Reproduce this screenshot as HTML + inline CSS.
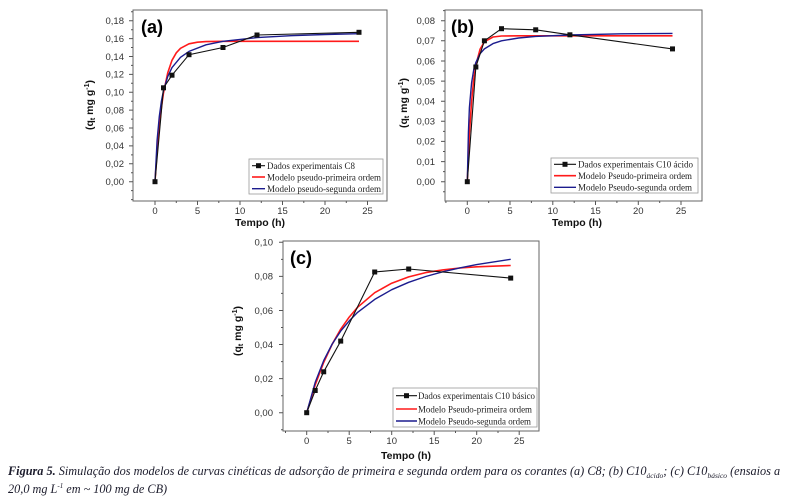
<!DOCTYPE html>
<html><head><meta charset="utf-8"><style>
html,body{margin:0;padding:0;background:#fff;}
svg{display:block;}
.tl{font-family:"Liberation Sans",sans-serif;font-size:9.5px;fill:#333;}
.ax{font-family:"Liberation Sans",sans-serif;font-size:10.5px;font-weight:bold;fill:#111;}
.pl{font-family:"Liberation Sans",sans-serif;font-size:18px;font-weight:bold;fill:#000;}
.lg{font-family:"Liberation Serif",serif;font-size:9.5px;fill:#222;}
.cap{font-family:"Liberation Serif",serif;font-size:12.25px;font-style:italic;fill:#1c1c2c;}
</style></head><body>
<svg width="789" height="504" viewBox="0 0 789 504" xmlns="http://www.w3.org/2000/svg">
<rect width="789" height="504" fill="#fff"/>

<!-- ================= (a) ================= -->
<g>
<rect x="133" y="10" width="254" height="191" fill="none" stroke="#666" stroke-width="1"/>
<g stroke="#555" stroke-width="1">
<path d="M129 181.7H133M129 163.8H133M129 145.9H133M129 128H133M129 110.1H133M129 92.3H133M129 74.4H133M129 56.5H133M129 38.6H133M129 20.7H133"/>
<path d="M131 199.6H133M131 190.6H133M131 172.8H133M131 154.9H133M131 137H133M131 119.1H133M131 101.2H133M131 83.3H133M131 65.4H133M131 47.5H133M131 29.7H133M131 11.8H133"/>
<path d="M155 201V205M197.5 201V205M240 201V205M282.5 201V205M325 201V205M367.5 201V205"/>
<path d="M176.3 201V203M218.8 201V203M261.3 201V203M303.8 201V203M346.3 201V203"/>
</g>
<g class="tl" text-anchor="end">
<text x="124" y="185">0,00</text><text x="124" y="167.1">0,02</text><text x="124" y="149.2">0,04</text><text x="124" y="131.3">0,06</text><text x="124" y="113.4">0,08</text><text x="124" y="95.6">0,10</text><text x="124" y="77.7">0,12</text><text x="124" y="59.8">0,14</text><text x="124" y="41.9">0,16</text><text x="124" y="24">0,18</text>
</g>
<g class="tl" text-anchor="middle">
<text x="155" y="214">0</text><text x="197.5" y="214">5</text><text x="240" y="214">10</text><text x="282.5" y="214">15</text><text x="325" y="214">20</text><text x="367.5" y="214">25</text>
</g>
<text class="ax" x="260" y="226" text-anchor="middle">Tempo (h)</text>
<text class="ax" transform="translate(93,105) rotate(-90)" text-anchor="middle">(q<tspan font-size="7" dy="2">t</tspan><tspan dy="-2"> mg g</tspan><tspan font-size="7" dy="-4">-1</tspan><tspan dy="4">)</tspan></text>
<text class="pl" x="141" y="33">(a)</text>
<polyline fill="none" stroke="#ff1a1a" stroke-width="1.6" stroke-linejoin="round" points="155,181.7 157.1,150.6 159.3,126.4 161.4,107.6 163.5,92.9 167.8,72.6 172,60.3 176.3,52.8 180.5,48.3 189,43.8 197.5,42.2 206,41.6 223,41.3 240,41.3 274,41.3 359,41.3"/>
<polyline fill="none" stroke="#1c1c8e" stroke-width="1.4" stroke-linejoin="round" points="155,181.7 157.1,140.3 159.3,116.5 161.4,101.2 163.5,90.5 167.8,76.4 172,67.6 180.5,57.3 189,51.4 206,44.8 223,41.3 257,37.6 291,35.7 325,34.5 359,33.7"/>
<polyline fill="none" stroke="#111" stroke-width="1.1" points="155,181.7 163.5,87.8 172,75.2 189,54.7 223,47.5 257,35 359,32.3"/>
<g fill="#111"><rect x="152.5" y="179.2" width="5" height="5"/><rect x="161" y="85.3" width="5" height="5"/><rect x="169.5" y="72.7" width="5" height="5"/><rect x="186.5" y="52.2" width="5" height="5"/><rect x="220.5" y="45" width="5" height="5"/><rect x="254.5" y="32.5" width="5" height="5"/><rect x="356.5" y="29.8" width="5" height="5"/></g>
<rect x="249" y="159" width="134" height="35" fill="#fff" stroke="#999" stroke-width="0.8"/>
<line x1="252" y1="165.7" x2="265" y2="165.7" stroke="#111" stroke-width="1.1"/><rect x="256" y="163.2" width="5" height="5" fill="#111"/>
<line x1="252" y1="177" x2="265" y2="177" stroke="#ff1a1a" stroke-width="1.6"/>
<line x1="252" y1="188.7" x2="265" y2="188.7" stroke="#1c1c8e" stroke-width="1.4"/>
<text class="lg" x="267" y="169" textLength="88" lengthAdjust="spacingAndGlyphs">Dados experimentais C8</text>
<text class="lg" x="267" y="180.3" textLength="114" lengthAdjust="spacingAndGlyphs">Modelo pseudo-primeira ordem</text>
<text class="lg" x="267" y="192" textLength="114" lengthAdjust="spacingAndGlyphs">Modelo pseudo-segunda ordem</text>
</g>

<!-- ================= (b) ================= -->
<g>
<rect x="445" y="10" width="257" height="191" fill="none" stroke="#666" stroke-width="1"/>
<g stroke="#555" stroke-width="1">
<path d="M441 181.7H445M441 161.6H445M441 141.4H445M441 121.3H445M441 101.2H445M441 81.1H445M441 61H445M441 40.8H445M441 20.7H445"/>
<path d="M443 191.8H445M443 171.6H445M443 151.5H445M443 131.4H445M443 111.3H445M443 91.1H445M443 71H445M443 50.9H445M443 30.8H445M443 10.6H445"/>
<path d="M467.3 201V205M510 201V205M552.8 201V205M595.5 201V205M638.3 201V205M681 201V205"/>
<path d="M445.9 201V203M488.7 201V203M531.4 201V203M574.2 201V203M616.9 201V203M659.7 201V203"/>
</g>
<g class="tl" text-anchor="end">
<text x="435" y="185">0,00</text><text x="435" y="164.9">0,01</text><text x="435" y="144.7">0,02</text><text x="435" y="124.6">0,03</text><text x="435" y="104.5">0,04</text><text x="435" y="84.4">0,05</text><text x="435" y="64.3">0,06</text><text x="435" y="44.1">0,07</text><text x="435" y="24">0,08</text>
</g>
<g class="tl" text-anchor="middle">
<text x="467.3" y="214">0</text><text x="510" y="214">5</text><text x="552.8" y="214">10</text><text x="595.5" y="214">15</text><text x="638.3" y="214">20</text><text x="681" y="214">25</text>
</g>
<text class="ax" x="577" y="226" text-anchor="middle">Tempo (h)</text>
<text class="ax" transform="translate(407,103) rotate(-90)" text-anchor="middle">(q<tspan font-size="7" dy="2">t</tspan><tspan dy="-2"> mg g</tspan><tspan font-size="7" dy="-4">-1</tspan><tspan dy="4">)</tspan></text>
<text class="pl" x="451" y="33">(b)</text>
<polyline fill="none" stroke="#ff1a1a" stroke-width="1.6" stroke-linejoin="round" points="467.3,181.7 469.4,133.6 471.6,101.4 473.7,79.7 475.85,65.2 480.1,49.1 484.4,41.8 493,37 501.5,36 518.6,35.8 672.5,35.8"/>
<polyline fill="none" stroke="#1c1c8e" stroke-width="1.4" stroke-linejoin="round" points="467.3,181.7 468.4,132.6 469.4,107.6 471.6,82.7 473.7,70 475.85,62.4 480.1,53.7 484.4,48.9 493,43.6 501.5,40.8 518.6,38 535.7,36.4 569.9,35 621.2,33.8 672.5,33.4"/>
<polyline fill="none" stroke="#111" stroke-width="1.1" points="467.3,181.7 475.85,67 484.4,40.8 501.5,28.7 535.7,29.8 569.9,34.8 672.5,48.9"/>
<g fill="#111"><rect x="464.8" y="179.2" width="5" height="5"/><rect x="473.35" y="64.5" width="5" height="5"/><rect x="481.9" y="38.3" width="5" height="5"/><rect x="499" y="26.2" width="5" height="5"/><rect x="533.2" y="27.3" width="5" height="5"/><rect x="567.4" y="32.3" width="5" height="5"/><rect x="670" y="46.4" width="5" height="5"/></g>
<rect x="551" y="158" width="147" height="35" fill="#fff" stroke="#999" stroke-width="0.8"/>
<line x1="554" y1="164.3" x2="576" y2="164.3" stroke="#111" stroke-width="1.1"/><rect x="562.5" y="161.8" width="5" height="5" fill="#111"/>
<line x1="554" y1="175.7" x2="576" y2="175.7" stroke="#ff1a1a" stroke-width="1.6"/>
<line x1="554" y1="187.3" x2="576" y2="187.3" stroke="#1c1c8e" stroke-width="1.4"/>
<text class="lg" x="578" y="167.6" textLength="115" lengthAdjust="spacingAndGlyphs">Dados experimentais C10 ácido</text>
<text class="lg" x="578" y="179" textLength="114" lengthAdjust="spacingAndGlyphs">Modelo Pseudo-primeira ordem</text>
<text class="lg" x="578" y="190.6" textLength="114" lengthAdjust="spacingAndGlyphs">Modelo Pseudo-segunda ordem</text>
</g>

<!-- ================= (c) ================= -->
<g>
<rect x="283" y="241" width="256" height="190" fill="none" stroke="#666" stroke-width="1"/>
<g stroke="#555" stroke-width="1">
<path d="M279 412.7H283M279 378.6H283M279 344.5H283M279 310.5H283M279 276.4H283M279 242.3H283"/>
<path d="M281 429.7H283M281 395.7H283M281 361.6H283M281 327.5H283M281 293.4H283M281 259.4H283"/>
<path d="M306.7 431V435M349.2 431V435M391.7 431V435M434.2 431V435M476.7 431V435M519.2 431V435"/>
<path d="M285.5 431V433M328 431V433M370.5 431V433M413 431V433M455.5 431V433M498 431V433"/>
</g>
<g class="tl" text-anchor="end">
<text x="273" y="416">0,00</text><text x="273" y="381.9">0,02</text><text x="273" y="347.8">0,04</text><text x="273" y="313.8">0,06</text><text x="273" y="279.7">0,08</text><text x="273" y="245.6">0,10</text>
</g>
<g class="tl" text-anchor="middle">
<text x="306.7" y="444">0</text><text x="349.2" y="444">5</text><text x="391.7" y="444">10</text><text x="434.2" y="444">15</text><text x="476.7" y="444">20</text><text x="519.2" y="444">25</text>
</g>
<text class="ax" x="406" y="459" text-anchor="middle">Tempo (h)</text>
<text class="ax" transform="translate(241,331) rotate(-90)" text-anchor="middle">(q<tspan font-size="7" dy="2">t</tspan><tspan dy="-2"> mg g</tspan><tspan font-size="7" dy="-4">-1</tspan><tspan dy="4">)</tspan></text>
<text class="pl" x="290" y="264">(c)</text>
<polyline fill="none" stroke="#ff1a1a" stroke-width="1.6" stroke-linejoin="round" points="306.7,412.7 315.2,384.9 323.7,362.4 332.2,344.2 340.7,329.2 349.2,317.1 357.7,307.2 374.7,292.7 391.7,283.2 408.7,276.9 425.7,272.6 442.7,269.9 459.7,268 476.7,266.8 510.7,265.5"/>
<polyline fill="none" stroke="#1c1c8e" stroke-width="1.4" stroke-linejoin="round" points="306.7,412.7 315.2,382.4 323.7,360.6 332.2,344 340.7,331.1 349.2,320.9 357.7,312.3 374.7,299.4 391.7,289.7 408.7,282.3 425.7,276.5 442.7,271.8 459.7,267.9 476.7,264.6 510.7,259.3"/>
<polyline fill="none" stroke="#111" stroke-width="1.1" points="306.7,412.7 315.2,390.5 323.7,371.8 340.7,341.1 374.7,272 408.7,269 510.7,278.1"/>
<g fill="#111"><rect x="304.2" y="410.2" width="5" height="5"/><rect x="312.7" y="388" width="5" height="5"/><rect x="321.2" y="369.3" width="5" height="5"/><rect x="338.2" y="338.6" width="5" height="5"/><rect x="372.2" y="269.5" width="5" height="5"/><rect x="406.2" y="266.5" width="5" height="5"/><rect x="508.2" y="275.6" width="5" height="5"/></g>
<rect x="393" y="388" width="144" height="39" fill="#fff" stroke="#999" stroke-width="0.8"/>
<line x1="396" y1="395.7" x2="417" y2="395.7" stroke="#111" stroke-width="1.1"/><rect x="404" y="393.2" width="5" height="5" fill="#111"/>
<line x1="396" y1="409" x2="417" y2="409" stroke="#ff1a1a" stroke-width="1.6"/>
<line x1="396" y1="421" x2="417" y2="421" stroke="#1c1c8e" stroke-width="1.4"/>
<text class="lg" x="418" y="399" textLength="117" lengthAdjust="spacingAndGlyphs">Dados experimentais C10 básico</text>
<text class="lg" x="418" y="412.3" textLength="114" lengthAdjust="spacingAndGlyphs">Modelo Pseudo-primeira ordem</text>
<text class="lg" x="418" y="424.3" textLength="113" lengthAdjust="spacingAndGlyphs">Modelo Pseudo-segunda ordem</text>
</g>

<!-- ================= caption ================= -->
<text class="cap" x="8" y="475"><tspan font-weight="bold">Figura 5.</tspan> Simulação dos modelos de curvas cinéticas de adsorção de primeira e segunda ordem para os corantes (a) C8; (b) C10<tspan font-size="7.5" dy="3">ácido</tspan><tspan dy="-3">; (c) C10</tspan><tspan font-size="7.5" dy="3">básico</tspan><tspan dy="-3"> (ensaios a</tspan></text>
<text class="cap" x="8" y="493">20,0 mg L<tspan font-size="7" dy="-5">-1</tspan><tspan dy="5"> em ~ 100 mg de CB)</tspan></text>
</svg>
</body></html>
